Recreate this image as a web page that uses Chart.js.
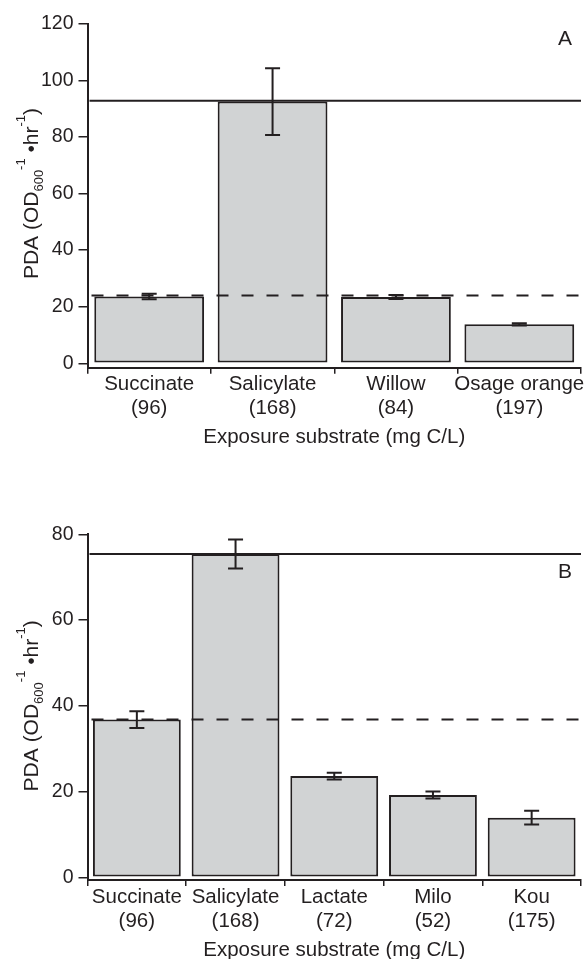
<!DOCTYPE html>
<html>
<head>
<meta charset="utf-8">
<script src="https://cdn.jsdelivr.net/npm/chart.js@4.4.0/dist/chart.umd.min.js"></script>
<style>
  html, body { margin: 0; padding: 0; background: #fff; overflow: hidden; }
  .panel { position: absolute; left: 0; width: 586px; }
  #wrapA { top: 0; height: 470px; }
  #wrapB { top: 470px; height: 500px; }
</style>
</head>
<body>
<div class="panel" id="wrapA"><canvas id="chartA"></canvas></div>
<div class="panel" id="wrapB"><canvas id="chartB"></canvas></div>
<script>
// panel A
const labelsA = [['Succinate', '(96)'], ['Salicylate', '(168)'], ['Willow', '(84)'], ['Osage orange', '(197)']]
const valuesA = [23.6, 92.5, 23.4, 13.8]
const errorsA = [1.0, 11.8, 0.7, 0.4]
const solidLineA = 92.8
const dashedLineA = 24.0
const yTicksA = [0, 20, 40, 60, 80, 100, 120]

// panel B
const labelsB = [['Succinate', '(96)'], ['Salicylate', '(168)'], ['Lactate', '(72)'], ['Milo', '(52)'], ['Kou', '(175)']]
const valuesB = [36.8, 75.4, 23.6, 19.2, 13.9]
const errorsB = [1.95, 3.4, 0.8, 0.8, 1.6]
const solidLineB = 75.4
const dashedLineB = 36.8
const yTicksB = [0, 20, 40, 60, 80]

const ink = '#231f20'
const barFill = '#d1d3d4'
const family = "'Liberation Sans', Arial, Helvetica, sans-serif"

// error bars, reference lines, y title with sub/superscripts, panel letter
const extras = {
  id: 'extras',
  afterDatasetsDraw(chart, args, opts) {
    const ctx = chart.ctx
    const y = chart.scales.y
    const area = chart.chartArea
    const meta = chart.getDatasetMeta(0)

    ctx.save()
    ctx.strokeStyle = ink
    ctx.lineWidth = 2

    // solid + dashed reference lines
    let py = y.getPixelForValue(opts.solid)
    ctx.beginPath()
    ctx.moveTo(area.left + 2, py)
    ctx.lineTo(area.right, py)
    ctx.stroke()

    py = y.getPixelForValue(opts.dashed)
    ctx.setLineDash([12, 13])
    ctx.beginPath()
    ctx.moveTo(area.left + 4, py)
    ctx.lineTo(area.right, py)
    ctx.stroke()
    ctx.setLineDash([])

    // error bars
    const vals = chart.data.datasets[0].data
    opts.errors.forEach((e, i) => {
      const x = meta.data[i].x
      const top = y.getPixelForValue(vals[i] + e)
      const bot = y.getPixelForValue(vals[i] - e)
      ctx.beginPath()
      ctx.moveTo(x, top); ctx.lineTo(x, bot)
      ctx.moveTo(x - 7.5, top); ctx.lineTo(x + 7.5, top)
      ctx.moveTo(x - 7.5, bot); ctx.lineTo(x + 7.5, bot)
      ctx.stroke()
    })
    ctx.restore()
  },
  afterDraw(chart, args, opts) {
    const ctx = chart.ctx
    const y = chart.scales.y
    const area = chart.chartArea
    ctx.save()
    ctx.fillStyle = ink

    // panel letter
    ctx.font = '21px ' + family
    ctx.textAlign = 'center'
    ctx.textBaseline = 'middle'
    ctx.fillText(opts.letter, area.right - 16, area.top + opts.letterDy)

    // rotated y title: PDA (OD600^-1 •hr^-1)
    const parts = [
      ['PDA (OD', 'main'], ['600', 'sub'], ['-1', 'sup'],
      [' \u2022hr', 'main'], ['-1', 'sup'], [')', 'main']
    ]
    const mainFont = '21px ' + family
    const smallFont = '13px ' + family
    let total = 0
    parts.forEach(p => {
      ctx.font = p[1] === 'main' ? mainFont : smallFont
      total += ctx.measureText(p[0]).width
    })
    const cy = (y.getPixelForValue(y.max) + y.getPixelForValue(0)) / 2
    ctx.translate(38, cy)
    ctx.rotate(-Math.PI / 2)
    ctx.textAlign = 'left'
    ctx.textBaseline = 'alphabetic'
    let x = -total / 2
    parts.forEach(p => {
      ctx.font = p[1] === 'main' ? mainFont : smallFont
      const dy = p[1] === 'sub' ? 5 : p[1] === 'sup' ? -13 : 0
      ctx.fillText(p[0], x, dy)
      x += ctx.measureText(p[0]).width
    })
    ctx.restore()
  }
}

function makeChart(id, labels, values, errors, solid, dashed, yTicks, cfg) {
  return new Chart(document.getElementById(id), {
    type: 'bar',
    data: {
      labels: labels,
      datasets: [{
        data: values,
        backgroundColor: barFill,
        borderColor: ink,
        borderWidth: 2,
        borderSkipped: false,
        categoryPercentage: 1,
        barPercentage: 0.89
      }]
    },
    options: {
      responsive: true,
      maintainAspectRatio: false,
      animation: false,
      devicePixelRatio: 1,
      layout: { padding: { left: 0, right: 5, top: cfg.top, bottom: 0 } },
      plugins: {
        legend: { display: false },
        tooltip: { enabled: false },
        extras: { errors: errors, solid: solid, dashed: dashed, letter: cfg.letter, letterDy: cfg.letterDy }
      },
      scales: {
        x: {
          offset: true,
          afterFit: s => { s.height = cfg.xHeight },
          grid: { offset: true, drawOnChartArea: false, tickLength: 6, color: ink, lineWidth: 1.5 },
          border: { display: true, color: ink, width: 2 },
          ticks: {
            color: ink, padding: -1, maxRotation: 0, autoSkip: false,
            font: { family: family, size: 20.5, lineHeight: 1.17 }
          },
          title: {
            display: true, text: 'Exposure substrate (mg C/L)', color: ink,
            font: { family: family, size: 20.5, lineHeight: 1.17 },
            padding: { top: 0, bottom: cfg.titlePad }
          }
        },
        y: {
          min: cfg.yMin,
          max: yTicks[yTicks.length - 1],
          afterBuildTicks: s => { s.ticks = yTicks.map(v => ({ value: v })) },
          afterFit: s => { s.width = 87.5 },
          grid: { drawOnChartArea: false, tickLength: 9, color: ink, lineWidth: 1.5 },
          border: { display: true, color: ink, width: 2 },
          ticks: { color: ink, padding: 5, font: { family: family, size: 19.5 } }
        }
      }
    },
    plugins: [extras]
  })
}

makeChart('chartA', labelsA, valuesA, errorsA, solidLineA, dashedLineA, yTicksA,
  { top: 23.7, xHeight: 102.3, titlePad: 21, yMin: -1.55, letter: 'A', letterDy: 16 })
makeChart('chartB', labelsB, valuesB, errorsB, solidLineB, dashedLineB, yTicksB,
  { top: 64.3, xHeight: 90, titlePad: 8, yMin: -0.63, letter: 'B', letterDy: 38 })
</script>
</body>
</html>
